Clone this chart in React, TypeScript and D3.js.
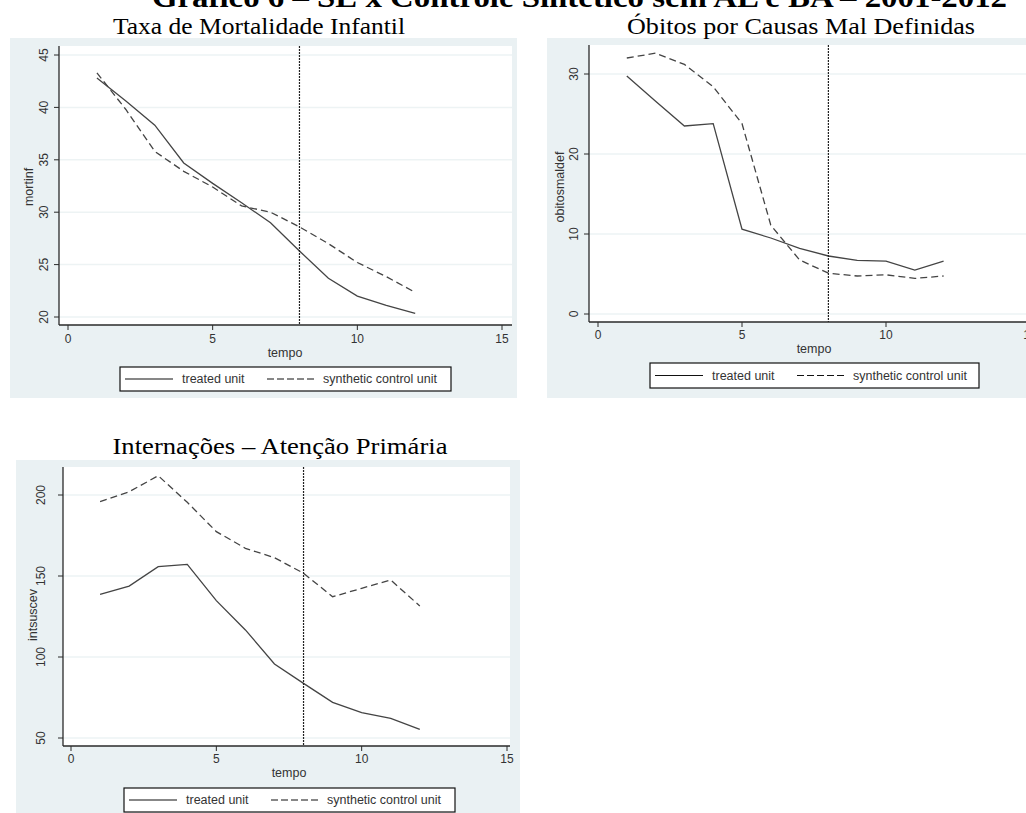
import React from "react";
import * as d3 from "d3";

// ---------- DATA ----------
const tempo = [1, 2, 3, 4, 5, 6, 7, 8, 9, 10, 11, 12];
const treatmentTime = 8;
const xTicks = [0, 5, 10, 15];

const mortinfTreated = [42.8, 40.6, 38.3, 34.7, 32.75, 30.9, 29.0, 26.3, 23.7, 22.0, 21.1, 20.35];
const mortinfSynthetic = [43.3, 39.8, 35.8, 33.9, 32.4, 30.6, 30.0, 28.6, 27.0, 25.2, 23.85, 22.35];
const mortinfTicks = [20, 25, 30, 35, 40, 45];

const obitosTreated = [29.75, 26.6, 23.5, 23.8, 10.6, 9.5, 8.2, 7.25, 6.7, 6.6, 5.5, 6.6];
const obitosSynthetic = [32.0, 32.6, 31.2, 28.4, 23.8, 11.1, 6.75, 5.1, 4.75, 4.9, 4.45, 4.75];
const obitosTicks = [0, 10, 20, 30];

const intsuscevTreated = [138.7, 143.8, 155.8, 157.2, 134.8, 116.7, 95.7, 83.7, 72.0, 65.6, 62.1, 55.3];
const intsuscevSynthetic = [195.9, 202.0, 211.9, 195.5, 177.4, 167.1, 161.3, 151.7, 137.2, 142.4, 147.5, 131.5];
const intsuscevTicks = [50, 100, 150, 200];

const mainTitle = "Gráfico 6 – SE x Controle Sintético sem AL e BA – 2001-2012";
const legendLabels = ["treated unit", "synthetic control unit"];

// ---------- STYLE ----------
const BG = "#eaf1f3";
const GRID = "#edf3f4";
const LINE = "#444";
const AXIS = "#2a2a2a";
const SANS = "'Liberation Sans', Arial, sans-serif";
const SERIF = "'Liberation Serif', 'Times New Roman', serif";

type PanelProps = {
  title: string;
  titleX: number;
  titleY: number;
  titleW: number;
  bg: { x: number; y: number; w: number; h: number };
  plot: { left: number; right: number; top: number; bottom: number };
  xRange: [number, number];
  yDomain: [number, number];
  yRange: [number, number];
  yTicks: number[];
  yLabel: string;
  yTickLabelX: number;
  yTitleX: number;
  yTitleY: number;
  xTickLabelY: number;
  xTitleY: number;
  treated: number[];
  synthetic: number[];
  legend: { x: number; y: number; w: number; h: number };
  clipId: string;
};

function Panel(p: PanelProps) {
  const x = d3.scaleLinear().domain([0, 15]).range(p.xRange);
  const y = d3.scaleLinear().domain(p.yDomain).range(p.yRange);
  const line = d3
    .line<number>()
    .x((_, i) => x(tempo[i]))
    .y((d) => y(d));
  const { left, right, top, bottom } = p.plot;
  const lg = p.legend;
  const lgMid = lg.y + lg.h / 2;
  return (
    <g>
      <rect x={p.bg.x} y={p.bg.y} width={p.bg.w} height={p.bg.h} fill={BG} />
      <rect x={left} y={top} width={right - left} height={bottom - top} fill="#fff" />
      <text
        x={p.titleX}
        y={p.titleY}
        textAnchor="middle"
        fontFamily={SERIF}
        fontSize={24}
        textLength={p.titleW}
        lengthAdjust="spacingAndGlyphs"
        fill="#000"
      >
        {p.title}
      </text>
      {p.yTicks.map((t) => (
        <line key={"g" + t} x1={left} x2={right} y1={y(t)} y2={y(t)} stroke={GRID} strokeWidth={1.5} />
      ))}
      <clipPath id={p.clipId}>
        <rect x={left} y={top} width={right - left} height={bottom - top} />
      </clipPath>
      <g clipPath={`url(#${p.clipId})`}>
        <path d={line(p.synthetic) || ""} fill="none" stroke={LINE} strokeWidth={1.3} strokeDasharray="7,4" />
        <path d={line(p.treated) || ""} fill="none" stroke={LINE} strokeWidth={1.3} />
        <line
          x1={x(treatmentTime)}
          x2={x(treatmentTime)}
          y1={top}
          y2={bottom}
          stroke="#222"
          strokeWidth={1.2}
          strokeDasharray="2,1"
        />
      </g>
      {/* axes */}
      <line x1={left} x2={left} y1={top} y2={bottom} stroke={AXIS} strokeWidth={1.3} />
      <line x1={left} x2={right} y1={bottom} y2={bottom} stroke={AXIS} strokeWidth={1.3} />
      {p.yTicks.map((t) => (
        <g key={"yt" + t}>
          <line x1={left - 5} x2={left} y1={y(t)} y2={y(t)} stroke={AXIS} strokeWidth={1} />
          <text
            transform={`translate(${p.yTickLabelX},${y(t)}) rotate(-90)`}
            textAnchor="middle"
            dominantBaseline="central"
            fontFamily={SANS}
            fontSize={12}
            fill="#333"
          >
            {t}
          </text>
        </g>
      ))}
      {xTicks.map((t) => (
        <g key={"xt" + t}>
          <line x1={x(t)} x2={x(t)} y1={bottom} y2={bottom + 5} stroke={AXIS} strokeWidth={1} />
          <text x={x(t)} y={p.xTickLabelY} textAnchor="middle" fontFamily={SANS} fontSize={12} fill="#333">
            {t}
          </text>
        </g>
      ))}
      <text
        transform={`translate(${p.yTitleX},${p.yTitleY}) rotate(-90)`}
        textAnchor="middle"
        dominantBaseline="central"
        fontFamily={SANS}
        fontSize={12.5}
        fill="#333"
      >
        {p.yLabel}
      </text>
      <text
        x={(x(0) + x(15)) / 2}
        y={p.xTitleY}
        textAnchor="middle"
        fontFamily={SANS}
        fontSize={12.5}
        fill="#333"
      >
        tempo
      </text>
      {/* legend */}
      <rect x={lg.x} y={lg.y} width={lg.w} height={lg.h} fill="#fff" stroke="#111" strokeWidth={1.2} />
      <line x1={lg.x + 5} x2={lg.x + 53} y1={lgMid} y2={lgMid} stroke="#111" strokeWidth={1.2} />
      <text x={lg.x + 62} y={lgMid} dominantBaseline="central" fontFamily={SANS} fontSize={12.5} fill="#333">
        {legendLabels[0]}
      </text>
      <line
        x1={lg.x + 147}
        x2={lg.x + 196}
        y1={lgMid}
        y2={lgMid}
        stroke="#111"
        strokeWidth={1.2}
        strokeDasharray="7,3"
      />
      <text x={lg.x + 203} y={lgMid} dominantBaseline="central" fontFamily={SANS} fontSize={12.5} fill="#333">
        {legendLabels[1]}
      </text>
    </g>
  );
}

export default function App() {
  return (
    <svg
      width={1026}
      height={813}
      style={{ position: "absolute", left: 0, top: 0, background: "#fff", overflow: "hidden" }}
    >
      <text
        x={152}
        y={6.5}
        fontFamily={SERIF}
        fontWeight="bold"
        fontSize={30}
        textLength={855}
        lengthAdjust="spacingAndGlyphs"
        fill="#000"
      >
        {mainTitle}
      </text>
      <Panel
        title="Taxa de Mortalidade Infantil"
        titleX={259}
        titleY={33.5}
        titleW={292}
        bg={{ x: 10, y: 38, w: 507, h: 360 }}
        plot={{ left: 59, right: 512, top: 46, bottom: 325 }}
        xRange={[68, 502]}
        yDomain={[20, 45]}
        yRange={[317, 55]}
        yTicks={mortinfTicks}
        yLabel="mortinf"
        yTickLabelX={44}
        yTitleX={29}
        yTitleY={187}
        xTickLabelY={343}
        xTitleY={357}
        treated={mortinfTreated}
        synthetic={mortinfSynthetic}
        legend={{ x: 120, y: 367, w: 331, h: 24 }}
        clipId="c1"
      />
      <Panel
        title="Óbitos por Causas Mal Definidas"
        titleX={801}
        titleY={33.5}
        titleW={348}
        bg={{ x: 547, y: 38, w: 500, h: 360 }}
        plot={{ left: 589, right: 1040, top: 45, bottom: 322 }}
        xRange={[598, 1030]}
        yDomain={[0, 30]}
        yRange={[314, 74]}
        yTicks={obitosTicks}
        yLabel="obitosmaldef"
        yTickLabelX={574}
        yTitleX={560}
        yTitleY={187}
        xTickLabelY={339}
        xTitleY={353}
        treated={obitosTreated}
        synthetic={obitosSynthetic}
        legend={{ x: 650, y: 363, w: 329, h: 25 }}
        clipId="c2"
      />
      <Panel
        title="Internações – Atenção Primária"
        titleX={280}
        titleY={454}
        titleW={335}
        bg={{ x: 16, y: 460, w: 504, h: 360 }}
        plot={{ left: 63, right: 510, top: 467, bottom: 746 }}
        xRange={[71, 507]}
        yDomain={[50, 200]}
        yRange={[738, 495]}
        yTicks={intsuscevTicks}
        yLabel="intsuscev"
        yTickLabelX={41}
        yTitleX={33}
        yTitleY={615}
        xTickLabelY={763}
        xTitleY={777}
        treated={intsuscevTreated}
        synthetic={intsuscevSynthetic}
        legend={{ x: 124, y: 788, w: 331, h: 24 }}
        clipId="c3"
      />
    </svg>
  );
}
